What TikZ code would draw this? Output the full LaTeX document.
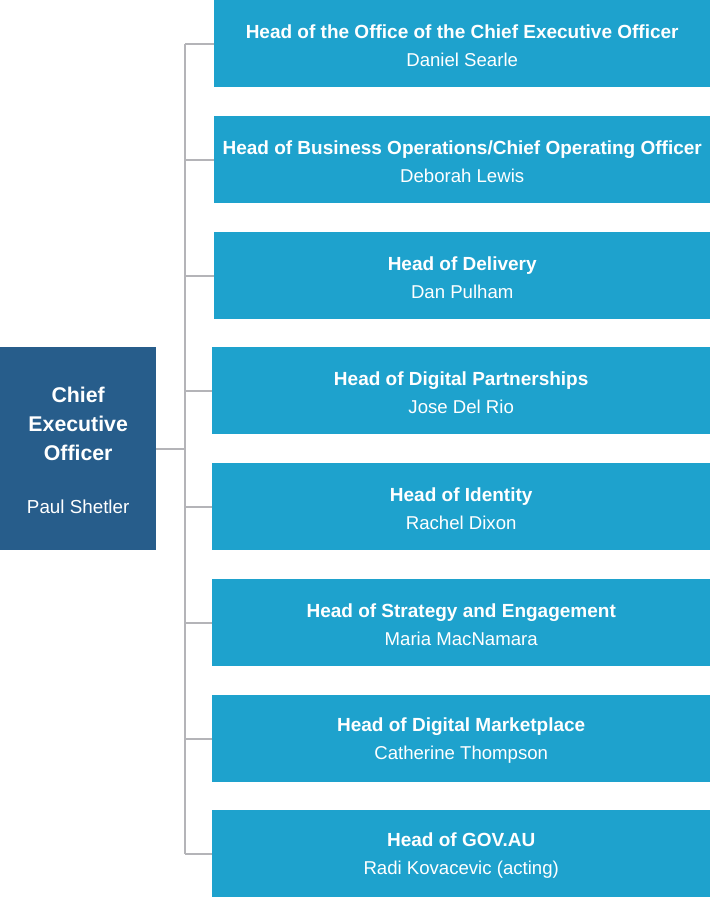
\documentclass[tikz,border=0pt]{standalone}
\usepackage{fontspec}
\setmainfont{Liberation Sans}
\usepackage{xcolor}
\definecolor{ceoblue}{RGB}{39, 93, 139}
\definecolor{headblue}{RGB}{30, 162, 205}
\definecolor{linegray}{RGB}{180, 180, 184}
\definecolor{white}{RGB}{255, 255, 255}

\tikzset{
    headbox/.style={rectangle,fill=headblue,text=white,anchor=north west,
        minimum height=87pt,inner sep=0pt,align=center,
        font=\fontsize{19}{28.5}\selectfont},
    ceobox/.style={rectangle,fill=ceoblue,text=white,anchor=north west,
        minimum width=156pt,minimum height=203pt,inner sep=0pt,align=center},
    link/.style={draw=linegray,line width=2pt}
}

\begin{document}
\begin{tikzpicture}[x=1pt,y=-1pt]
        \useasboundingbox (0,0) rectangle (710,897);
        % chief executive
        \node[ceobox,font=\fontsize{21.3}{29}\selectfont\bfseries] (ceo) at (0,347)
            {\rule{0pt}{19.5pt}Chief\\Executive\\Officer\\[24pt]\mdseries\fontsize{18.8}{22}\selectfont Paul Shetler};
        % heads
        \foreach \i/\x/\y/\role/\who in {
            1/214/0/{Head of the Office of the Chief Executive Officer}/{Daniel Searle},
            2/214/116/{Head of Business Operations/Chief Operating Officer}/{Deborah Lewis},
            3/214/232/{Head of Delivery}/{Dan Pulham},
            4/212/347/{Head of Digital Partnerships}/{Jose Del Rio},
            5/212/463/{Head of Identity}/{Rachel Dixon},
            6/212/579/{Head of Strategy and Engagement}/{Maria MacNamara},
            7/212/695/{Head of Digital Marketplace}/{Catherine Thompson},
            8/212/810/{Head of GOV.AU}/{Radi Kovacevic (acting)}}
            \node[headbox,minimum width=710pt-\x pt] (h\i) at (\x,\y)
                {\rule{0pt}{17.5pt}\textbf{\role}\\\fontsize{18.6}{22}\selectfont\who};
        % connectors
        \draw[link] (ceo.east) -- ++(29,0) coordinate (trunk);
        \draw[link] (trunk |- h1.west) -- (trunk |- h8.west);
        \foreach \i in {1,...,8}
            \draw[link] (trunk |- h\i.west) -- (h\i.west);
    \end{tikzpicture}
\end{document}
